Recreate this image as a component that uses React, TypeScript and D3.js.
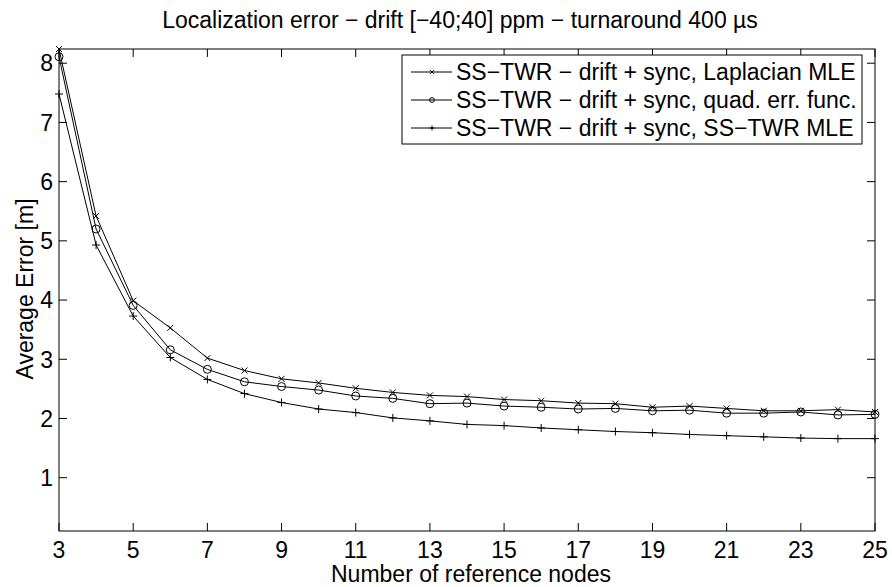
import React from 'react';
import * as d3 from 'd3';

const nodes = [3, 4, 5, 6, 7, 8, 9, 10, 11, 12, 13, 14, 15, 16, 17, 18, 19, 20, 21, 22, 23, 24, 25];
const laplacian = [8.24, 5.42, 3.99, 3.53, 3.02, 2.81, 2.67, 2.6, 2.51, 2.44, 2.39, 2.37, 2.32, 2.3, 2.26, 2.25, 2.19, 2.21, 2.17, 2.13, 2.13, 2.15, 2.11];
const quadratic = [8.11, 5.2, 3.91, 3.16, 2.83, 2.62, 2.54, 2.48, 2.38, 2.34, 2.25, 2.26, 2.21, 2.19, 2.16, 2.17, 2.13, 2.14, 2.09, 2.09, 2.11, 2.06, 2.07];
const sstwrMle = [7.48, 4.93, 3.73, 3.03, 2.66, 2.42, 2.27, 2.16, 2.1, 2.01, 1.96, 1.9, 1.88, 1.84, 1.81, 1.78, 1.76, 1.73, 1.71, 1.69, 1.67, 1.66, 1.66];
const xTicks = [3, 5, 7, 9, 11, 13, 15, 17, 19, 21, 23, 25];
const yTicks = [1, 2, 3, 4, 5, 6, 7, 8];
const legendLabels = [
  'SS\u2212TWR \u2212 drift + sync, Laplacian MLE',
  'SS\u2212TWR \u2212 drift + sync, quad. err. func.',
  'SS\u2212TWR \u2212 drift + sync, SS\u2212TWR MLE',
];

const W = 892;
const H = 587;
const left = 59;
const right = 875;
const top = 49;
const bottom = 531;
const fs = 23;
const font = 'Liberation Sans, Arial, Helvetica, sans-serif';

// marker glyphs, scaled down in the legend
const Marker = ({ kind, x, y, s = 1 }: { kind: string; x: number; y: number; s?: number }) => {
  if (kind === 'x') {
    const r = 3 * s;
    return <path d={`M${x - r},${y - r}L${x + r},${y + r}M${x - r},${y + r}L${x + r},${y - r}`} stroke="#000" strokeWidth={1} />;
  }
  if (kind === 'o') {
    return <circle cx={x} cy={y} r={4 * s} fill="none" stroke="#000" strokeWidth={1} />;
  }
  const r = 4 * s;
  return <path d={`M${x - r},${y}L${x + r},${y}M${x},${y - r}L${x},${y + r}`} stroke="#000" strokeWidth={1} />;
};

export default function App() {
  const x = d3.scaleLinear().domain([3, 25]).range([left, right]);
  const y = d3.scaleLinear().domain([0.1, 8.24]).range([bottom, top]);

  const series = [
    { values: laplacian, kind: 'x' },
    { values: quadratic, kind: 'o' },
    { values: sstwrMle, kind: '+' },
  ];

  const line = d3.line<number>()
    .x((_, i) => x(nodes[i]))
    .y(d => y(d));

  const tick = 8;
  const legend = { x0: 402, y0: 55, x1: 862, y1: 144 };
  const rowY = [72, 100, 128];

  return (
    <svg width={W} height={H} style={{ position: 'absolute', left: 0, top: 0, background: '#fff' }} fontFamily={font}>
      <rect x={0} y={0} width={W} height={H} fill="#fff" />
      {series.map((s, si) => (
        <g key={si}>
          <path d={line(s.values) || ''} fill="none" stroke="#000" strokeWidth={1} />
          {s.values.map((v, i) => (
            <Marker key={i} kind={s.kind} x={x(nodes[i])} y={y(v)} />
          ))}
        </g>
      ))}
      <rect x={left} y={top} width={right - left} height={bottom - top} fill="none" stroke="#000" strokeWidth={1} />
      {xTicks.map(t => (
        <g key={t}>
          <line x1={x(t)} x2={x(t)} y1={bottom} y2={bottom - tick} stroke="#000" />
          <line x1={x(t)} x2={x(t)} y1={top} y2={top + tick} stroke="#000" />
          <text x={x(t)} y={558} fontSize={fs} textAnchor="middle">{t}</text>
        </g>
      ))}
      {yTicks.map(t => (
        <g key={t}>
          <line x1={left} x2={left + tick} y1={y(t)} y2={y(t)} stroke="#000" />
          <line x1={right} x2={right - tick} y1={y(t)} y2={y(t)} stroke="#000" />
          <text x={left - 6} y={y(t)} dy="0.36em" fontSize={fs} textAnchor="end">{t}</text>
        </g>
      ))}
      <text x={471} y={582} fontSize={fs} textAnchor="middle">Number of reference nodes</text>
      <text transform={`translate(33,289) rotate(-90)`} fontSize={fs} textAnchor="middle">Average Error [m]</text>
      <text x={460} y={28} fontSize={fs} textAnchor="middle">
        Localization error {'\u2212'} drift [{'\u2212'}40;40] ppm {'\u2212'} turnaround 400 {'\u00b5'}s
      </text>
      <rect x={legend.x0} y={legend.y0} width={legend.x1 - legend.x0} height={legend.y1 - legend.y0} fill="#fff" stroke="#000" strokeWidth={1} />
      {series.map((s, i) => (
        <g key={i}>
          <line x1={411} x2={452} y1={rowY[i]} y2={rowY[i]} stroke="#000" />
          <Marker kind={s.kind} x={432} y={rowY[i]} s={0.6} />
          <text x={456} y={rowY[i]} dy="0.36em" fontSize={fs}>{legendLabels[i]}</text>
        </g>
      ))}
    </svg>
  );
}
